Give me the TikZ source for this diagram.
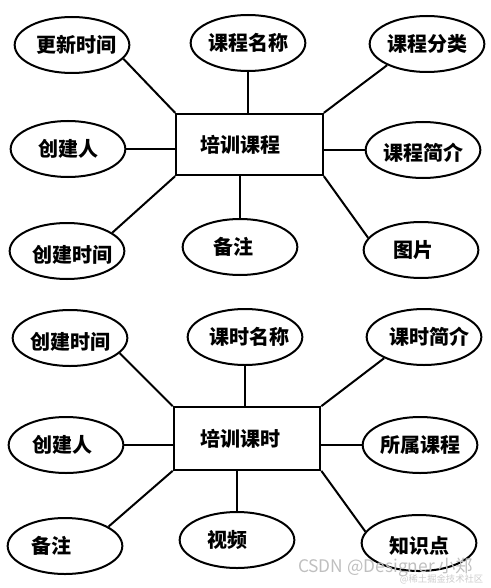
\documentclass[tikz,border=0pt]{standalone}
\usepackage{fontspec}
\setmainfont{Noto Sans CJK SC}
\usetikzlibrary{shapes.geometric}

\begin{document}
\begin{tikzpicture}[x=0.75pt,y=0.75pt,yscale=-1,
  attr/.style={draw, ellipse, line width=1.5pt, minimum width=86pt, minimum height=42pt, inner sep=0pt},
  entity/.style={draw, rectangle, line width=1.5pt, minimum width=110pt, minimum height=46pt, inner sep=0pt},
  txt/.style={font=\fontsize{15}{18}\selectfont\bfseries},
  link/.style={line width=1.5pt}]
\useasboundingbox (0,0) rectangle (491,588);

%Shape: Rectangle [培训课程]
\node[entity, label={[txt, xshift=-7pt]center:培训课程}] (kc) at (249.5,144.5) {};
%Shape: Ellipse [培训课程 attributes]
\node[attr, label={[txt, xshift=3pt]center:更新时间}] (kc_gxsj) at (72,45) {};
\node[attr, label={[txt]center:课程名称}] (kc_mc) at (248,43) {};
\node[attr, label={[txt]center:课程分类}] (kc_fl) at (427,44) {};
\node[attr, label={[txt]center:创建人}] (kc_cjr) at (68,149) {};
\node[attr, label={[txt, yshift=-2pt]center:课程简介}] (kc_jj) at (423,150) {};
\node[attr, label={[txt, xshift=4pt, yshift=-3pt]center:创建时间}] (kc_cjsj) at (67,251) {};
\node[attr, label={[txt, xshift=-5pt]center:备注}] (kc_bz) at (240,247) {};
\node[attr, label={[txt, xshift=-6pt]center:图片}] (kc_tp) at (421,250) {};

%Straight Lines [培训课程]
\draw[link] (kc_gxsj.-15) -- (kc.north west);
\draw[link] (kc_mc.south) -- (kc_mc.south |- kc.north);
\draw[link] (kc_fl.208) -- (kc.north east);
\draw[link] (kc_cjr.east) -- (kc_cjr.east -| kc.west);
\draw[link] (kc_jj.west) -- (kc_jj.west -| kc.east);
\draw[link] (kc_cjsj.22) -- (kc.south west);
\draw[link] (kc_bz.north) -- (kc_bz.north |- kc.south);
\draw[link] (kc_tp.167) -- (kc.south east);

%Shape: Rectangle [培训课时]
\node[entity, minimum height=47pt, label={[txt, xshift=-5pt]center:培训课时}] (ks) at (247,438.5) {};
%Shape: Ellipse [培训课时 attributes]
\node[attr, label={[txt, yshift=-3pt]center:创建时间}] (ks_cjsj) at (70,338) {};
\node[attr, label={[txt, xshift=3pt]center:课时名称}] (ks_mc) at (245,337) {};
\node[attr, label={[txt, xshift=4pt]center:课时简介}] (ks_jj) at (424,337) {};
\node[attr, label={[txt, xshift=-3pt]center:创建人}] (ks_cjr) at (66,445) {};
\node[attr, label={[txt]center:所属课程}] (ks_ss) at (420,445) {};
\node[attr, label={[txt, xshift=-10pt]center:备注}] (ks_bz) at (65,546) {};
\node[attr, label={[txt, xshift=-7pt]center:视频}] (ks_sp) at (237,540) {};
\node[attr, label={[txt, yshift=-2pt]center:知识点}] (ks_zsd) at (419,543) {};

%Straight Lines [培训课时]
\draw[link] (ks_cjsj.-17) -- (ks.north west);
\draw[link] (ks_mc.south) -- (ks_mc.south |- ks.north);
\draw[link] (ks_jj.208) -- (ks.north east);
\draw[link] (ks_cjr.east) -- (ks_cjr.east -| ks.west);
\draw[link] (ks_ss.west) -- (ks_ss.west -| ks.east);
\draw[link] (ks_bz.24) -- (ks.south west);
\draw[link] (ks_sp.north) -- (ks_sp.north |- ks.south);
\draw[link] (ks_zsd.168) -- (ks.south east);

% Text Node [watermark]
\node[text=black!25, font=\fontsize{13}{15}\selectfont, anchor=east] (wm) at (478,567) {CSDN @Designer 小郑};
\node[text=black!20, font=\fontsize{7}{8}\selectfont, anchor=east] (wm_sub) at (488,579) {@稀土掘金技术社区};
\end{tikzpicture}
\end{document}
